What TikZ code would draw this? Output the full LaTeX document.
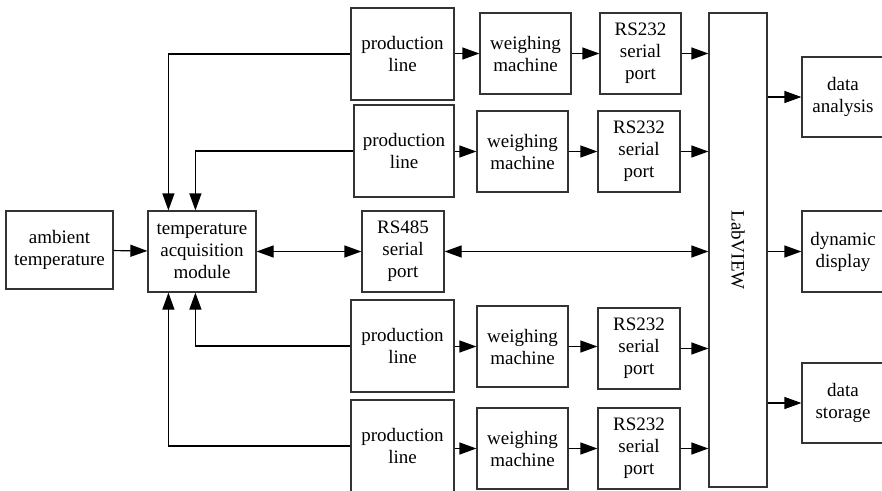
\documentclass[tikz,border=0pt]{standalone}
\usepackage{fontspec}
\setmainfont{Liberation Serif}
\usepackage{graphicx}
\usetikzlibrary{arrows.meta}
\begin{document}
\begin{tikzpicture}[x=1pt, y=-1pt, line width=1.2pt,
  font=\fontsize{19}{22}\selectfont,
  box/.style={draw=black!80, align=center, inner sep=0pt},
  pbox/.style={box, minimum width=103pt, minimum height=92pt},
  wbox/.style={box, minimum width=91pt, minimum height=81pt},
  sbox/.style={box, minimum width=82pt, minimum height=81pt},
  obox/.style={box, minimum width=82pt, minimum height=80pt},
  arr/.style={-{Triangle[length=17pt, width=12pt]}},
  darr/.style={{Triangle[length=17pt, width=12pt]}-{Triangle[length=17pt, width=12pt]}},
]
  \path[use as bounding box, clip] (0,0) rectangle (882,490);
  \fill[white] (0,0) rectangle (882,490);

  \node[box, minimum width=107pt, minimum height=78pt] (amb) at (59.5,250) {ambient\\temperature};
  \node[box, minimum width=108pt, minimum height=81pt] (tam) at (202,251.5) {temperature\\acquisition\\module};
  \node[sbox] (rs485) at (403,251.5) {RS485\\serial\\port};

  \node[pbox] (pl1) at (402.5,54) {production\\line};
  \node[pbox, minimum width=100pt] (pl2) at (404,151) {production\\line};
  \node[pbox] (pl3) at (402.5,346) {production\\line};
  \node[pbox] (pl4) at (402.5,446) {production\\line};

  \node[wbox] (wm1) at (525.5,53.5) {weighing\\machine};
  \node[wbox] (wm2) at (522.5,151.5) {weighing\\machine};
  \node[wbox] (wm3) at (522.5,346.5) {weighing\\machine};
  \node[wbox] (wm4) at (522.5,448.5) {weighing\\machine};

  \node[sbox, minimum width=81pt] (rs1) at (640.5,53.5) {RS232\\serial\\port};
  \node[sbox] (rs2) at (639,151.5) {RS232\\serial\\port};
  \node[sbox] (rs3) at (639,348.5) {RS232\\serial\\port};
  \node[sbox] (rs4) at (639,448.5) {RS232\\serial\\port};

  \node[box, minimum width=58pt, minimum height=474pt] (lab) at (738,250) {\rotatebox{-90}{LabVIEW}};

  \node[obox] (da) at (843,97) {data\\analysis};
  \node[obox, minimum height=81pt] (dd) at (843,251.5) {dynamic\\display};
  \node[obox] (ds) at (843,403) {data\\storage};

  \draw[arr] (amb) -- (tam);
  \draw[darr] (tam) -- (rs485);
  \draw[darr] (rs485) -- (rs485 -| lab.west);

  \foreach \i in {1,...,4} {
    \draw[arr] (pl\i.east |- wm\i.west) -- (wm\i.west);
    \draw[arr] (wm\i.east) -- (wm\i.east -| rs\i.west);
    \draw[arr] (rs\i.east) -- (rs\i.east -| lab.west);
  }

  \draw[arr] (pl1.west) -| ([xshift=21pt]tam.north west);
  \draw[arr] (pl2.west) -| ([xshift=48pt]tam.north west);
  \draw[arr] (pl3.west) -| ([xshift=48pt]tam.south west);
  \draw[arr] (pl4.west) -| ([xshift=21pt]tam.south west);

  \draw[arr] (lab.east |- da.west) -- (da.west);
  \draw[arr] (lab.east |- dd.west) -- (dd.west);
  \draw[arr] (lab.east |- ds.west) -- (ds.west);
\end{tikzpicture}
\end{document}
